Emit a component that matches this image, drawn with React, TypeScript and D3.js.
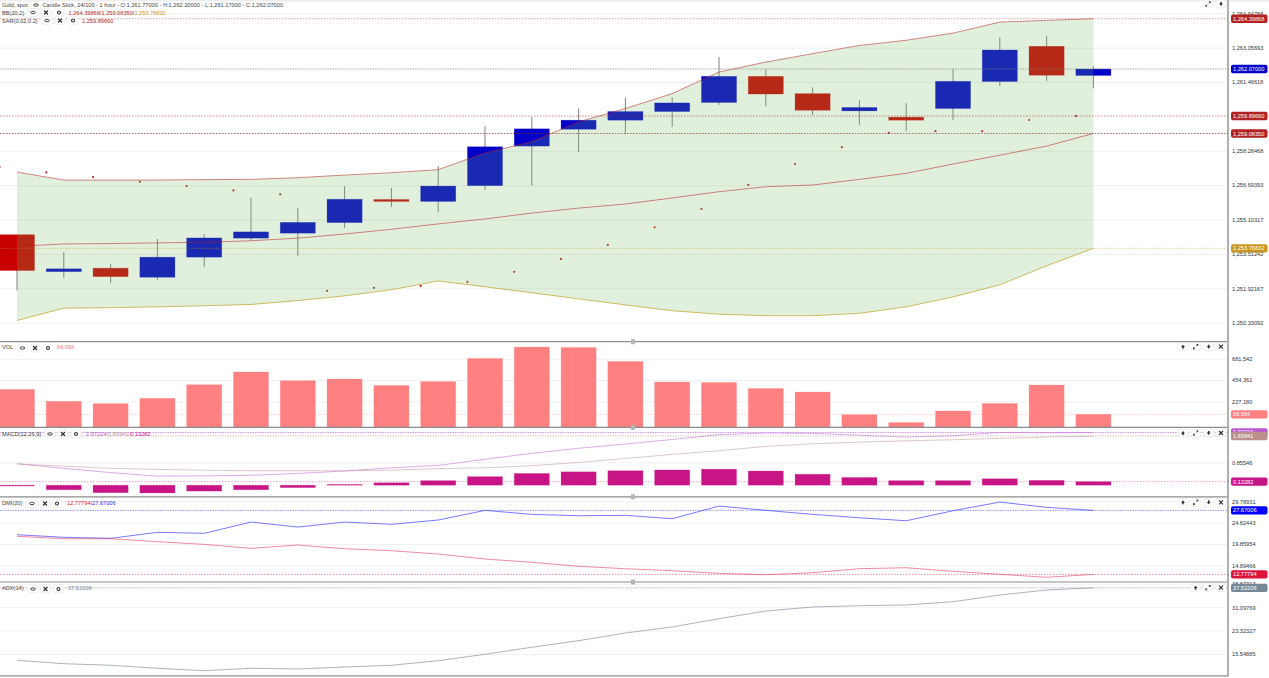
import React, { useRef, useEffect } from 'react';
import * as d3 from 'd3';

// candles, 1 hour bars
const opens = [1254.40, 1252.69, 1252.85, 1252.43, 1253.36, 1254.24, 1254.47, 1254.96, 1256.03, 1255.94, 1256.67, 1258.50, 1259.28, 1259.70, 1260.10, 1260.52, 1261.73, 1260.93, 1260.13, 1259.84, 1260.24, 1261.49, 1263.12, 1261.77];
const highs = [1254.40, 1253.60, 1253.05, 1254.20, 1254.43, 1256.11, 1255.65, 1256.65, 1256.56, 1257.58, 1259.42, 1259.84, 1260.24, 1260.75, 1260.76, 1262.62, 1262.06, 1261.22, 1260.62, 1260.49, 1262.06, 1263.53, 1263.61, 1262.20];
const lows = [1251.82, 1252.40, 1252.17, 1252.31, 1252.91, 1254.12, 1253.42, 1254.71, 1255.68, 1255.44, 1256.48, 1256.67, 1258.21, 1259.10, 1259.39, 1260.41, 1260.35, 1259.94, 1259.47, 1259.19, 1259.71, 1261.28, 1261.52, 1261.17];
const closes = [1252.74, 1252.82, 1252.46, 1253.36, 1254.25, 1254.53, 1254.97, 1256.04, 1255.94, 1256.65, 1258.47, 1259.30, 1259.70, 1260.10, 1260.50, 1261.73, 1260.91, 1260.16, 1260.29, 1259.70, 1261.50, 1262.95, 1261.78, 1262.07];

const bbUpper = [1257.30, 1256.93, 1256.93, 1256.93, 1256.95, 1256.96, 1257.04, 1257.16, 1257.27, 1257.41, 1258.18, 1258.70, 1259.62, 1260.24, 1260.93, 1261.93, 1262.39, 1262.78, 1263.16, 1263.40, 1263.73, 1264.24, 1264.32, 1264.39868];
const bbMiddle = [1253.86, 1253.97, 1253.99, 1254.02, 1254.05, 1254.12, 1254.24, 1254.43, 1254.65, 1254.90, 1255.13, 1255.40, 1255.63, 1255.82, 1256.10, 1256.39, 1256.62, 1256.70, 1256.96, 1257.24, 1257.67, 1258.08, 1258.50, 1259.0835];
const bbLower = [1250.43, 1251.00, 1251.02, 1251.06, 1251.11, 1251.17, 1251.35, 1251.57, 1251.85, 1252.26, 1251.99, 1251.71, 1251.43, 1251.15, 1250.88, 1250.72, 1250.65, 1250.65, 1250.76, 1251.06, 1251.52, 1252.08, 1252.96, 1253.76832];
const sar = [1257.53, 1257.28, 1257.07, 1256.85, 1256.65, 1256.45, 1256.27, 1251.80, 1251.94, 1252.03, 1252.22, 1252.68, 1253.28, 1253.93, 1254.74, 1255.59, 1256.71, 1257.67, 1258.45, 1259.11, 1259.19, 1259.19, 1259.71, 1259.8966];

const volume = [356000, 228000, 203000, 260000, 405000, 541000, 448000, 466000, 397000, 439000, 685000, 807000, 802000, 653000, 434000, 429000, 365000, 327000, 85000, 2000, 125000, 205000, 402000, 88954];

const macdLine = [0.80, 0.63, 0.47, 0.34, 0.35, 0.37, 0.44, 0.53, 0.65, 0.74, 0.97, 1.19, 1.38, 1.54, 1.71, 1.89, 1.95, 1.94, 1.87, 1.80, 1.85, 1.97, 1.96, 1.97224];
const macdSignal = [0.80, 0.71, 0.63, 0.59, 0.56, 0.54, 0.54, 0.54, 0.56, 0.62, 0.65, 0.73, 0.85, 1.00, 1.15, 1.29, 1.45, 1.55, 1.61, 1.66, 1.70, 1.75, 1.80, 1.83941];
const macdHist = [-0.03, -0.17, -0.28, -0.29, -0.22, -0.17, -0.09, 0.03, 0.09, 0.17, 0.32, 0.44, 0.50, 0.54, 0.57, 0.60, 0.53, 0.41, 0.29, 0.17, 0.17, 0.24, 0.18, 0.13282];

const diPlus = [22.01, 21.41, 21.17, 22.57, 22.33, 24.96, 23.80, 24.96, 24.43, 25.43, 27.68, 26.75, 26.43, 26.52, 25.73, 28.68, 27.68, 26.75, 25.96, 25.26, 27.59, 29.61, 28.38, 27.67006];
const diMinus = [21.64, 21.08, 21.08, 20.38, 19.77, 18.84, 19.61, 18.75, 18.29, 17.52, 16.36, 15.59, 14.66, 14.10, 13.63, 13.03, 12.70, 13.17, 14.10, 14.33, 13.49, 12.80, 12.10, 12.77794];
const adx = [13.46, 12.33, 11.80, 10.80, 10.00, 10.80, 10.57, 11.23, 11.80, 13.32, 15.45, 17.78, 19.97, 22.53, 24.52, 27.28, 29.83, 31.16, 31.60, 31.83, 32.92, 35.15, 36.81, 37.52206];

const priceTicks = [1264.64788, 1263.05693, 1261.46618, 1259.87543, 1258.28468, 1256.69393, 1255.10317, 1253.51242, 1251.92167, 1250.33092];
const volTicks = [681542, 454361, 227180];
const macdTicks = [0.85546];
const dmiTicks = [29.78931, 24.82443, 19.85954, 14.89466];
const adxTicks = [38.87313, 31.09769, 23.32327, 15.54885];

const FONT = '"Liberation Sans", Arial, sans-serif';
const W = 1269;
const H = 678;
const PLOT_R = 1228;
const FS = 5.65;

const UP = '#0000c8';
const DOWN = '#c80000';
const BRICK = '#b22222';
const GOLD = '#c8961e';
const MACD_C = '#ba55d3';
const SIGNAL_C = '#bc8f8f';
const HIST_C = '#c71585';
const PLUS_C = '#2a2aff';
const MINUS_C = '#dc143c';
const ADX_C = '#778899';
const VOL_C = '#ff8080';

type Sel = d3.Selection<any, any, any, any>;

const drawButton = (g: Sel, cx: number, cy: number, kind: string) => {
  const b = g.append('g').attr('transform', `translate(${cx},${cy})`);
  b.append('rect').attr('x', -5).attr('y', -3.8).attr('width', 10).attr('height', 7.6).attr('rx', 2)
    .attr('fill', '#fff').attr('stroke', '#e4e4e4').attr('stroke-width', 0.6);
  const ink = '#333';
  if (kind === 'eye') {
    b.append('ellipse').attr('rx', 2.4).attr('ry', 1.2).attr('fill', 'none').attr('stroke', ink).attr('stroke-width', 0.9);
  } else if (kind === 'x') {
    b.append('path').attr('d', 'M-2,-2L2,2M2,-2L-2,2').attr('stroke', ink).attr('stroke-width', 1.2);
  } else if (kind === 'gear') {
    b.append('circle').attr('r', 1.5).attr('fill', 'none').attr('stroke', ink).attr('stroke-width', 1.1);
  } else if (kind === 'up') {
    b.append('path').attr('d', 'M0,-2L2,0.4H0.8V2H-0.8V0.4H-2Z').attr('fill', ink);
  } else if (kind === 'down') {
    b.append('path').attr('d', 'M0,2L2,-0.4H0.8V-2H-0.8V-0.4H-2Z').attr('fill', ink);
  } else {
    b.append('path').attr('d', 'M-2.2,2.2L-0.8,0.8M0.8,-0.8L2.2,-2.2').attr('stroke', ink).attr('stroke-width', 1);
    b.append('path').attr('d', 'M-2.6,0.4V2.6H-0.4ZM2.6,-0.4V-2.6H0.4Z').attr('fill', ink);
  }
};

const App: React.FC = () => {
  const svgRef = useRef<SVGSVGElement>(null);

  useEffect(() => {
    if (!svgRef.current) return;
    const svg = d3.select(svgRef.current);
    svg.selectAll('*').remove();

    const idx = d3.range(opens.length);
    const x = d3.scaleBand<number>().domain(idx).range([-6.4, 1116.8]).paddingInner(0.25).paddingOuter(0.125);
    const bw = x.bandwidth();
    const cx = (i: number) => (x(i) as number) + bw / 2;

    const yPrice = d3.scaleLinear().domain([1264.64788, 1250.33092]).range([13.3, 322.6]);
    const yVol = d3.scaleLinear().domain([681542, 0]).range([358.8, 422.7]);
    const yMacd = d3.scaleLinear().domain([1.83941, 0]).range([436, 485.2]);
    const yDmi = d3.scaleLinear().domain([29.78931, 14.89466]).range([501.3, 565.3]);
    const yAdx = d3.scaleLinear().domain([31.09769, 15.54885]).range([607.2, 654]);

    svg.append('rect').attr('width', W).attr('height', H).attr('fill', '#fff');
    svg.append('rect').attr('width', W).attr('height', 1.5).attr('fill', '#eeeeee');

    // grid lines + right tick labels
    const addAxis = (scale: d3.ScaleLinear<number, number>, ticks: number[], fmt: string) => {
      const a = svg.append('g').attr('transform', `translate(${PLOT_R},0)`)
        .call(d3.axisRight(scale).tickValues(ticks).tickSize(-PLOT_R).tickPadding(4).tickFormat(d3.format(fmt) as any));
      a.select('path.domain').remove();
      a.selectAll('line').attr('stroke', '#f0f0f0');
      a.selectAll('text').attr('fill', '#333').style('font-size', `${FS}px`).style('font-family', FONT);
    };
    addAxis(yPrice, priceTicks, ',.5f');
    addAxis(yVol, volTicks, ',d');
    addAxis(yMacd, macdTicks, '.5f');
    addAxis(yDmi, dmiTicks, '.5f');
    addAxis(yAdx, adxTicks, '.5f');

    // candles
    const candles = svg.append('g');
    idx.forEach((i) => {
      const up = closes[i] >= opens[i];
      const c = up ? UP : DOWN;
      candles.append('line').attr('x1', cx(i)).attr('x2', cx(i))
        .attr('y1', yPrice(highs[i])).attr('y2', yPrice(lows[i]))
        .attr('stroke', '#808080').attr('stroke-width', 1);
      candles.append('rect').attr('x', x(i) as number).attr('width', bw)
        .attr('y', yPrice(Math.max(opens[i], closes[i])))
        .attr('height', Math.abs(yPrice(opens[i]) - yPrice(closes[i])))
        .attr('fill', c).attr('stroke', c).attr('stroke-opacity', 0.35).attr('stroke-width', 0.7);
    });

    // SAR sits on the left edge of each band
    svg.append('g').selectAll('circle').data(sar).join('circle')
      .attr('cx', (_, i) => x(i) as number)
      .attr('cy', (d) => yPrice(d))
      .attr('r', 1.1)
      .attr('fill', BRICK);

    // bollinger band
    const band = d3.area<number>()
      .x((i) => cx(i))
      .y0((i) => yPrice(bbLower[i]))
      .y1((i) => yPrice(bbUpper[i]));
    svg.append('path').datum(idx).attr('d', band).attr('fill', 'rgba(120,185,100,0.22)');

    const addLine = (vals: number[], scale: d3.ScaleLinear<number, number>, color: string, op = 0.75) => {
      const line = d3.line<number>().x((_, i) => cx(i)).y((d) => scale(d));
      svg.append('path').datum(vals).attr('d', line).attr('fill', 'none')
        .attr('stroke', color).attr('stroke-width', 0.9).attr('stroke-opacity', op);
    };
    addLine(bbUpper, yPrice, BRICK, 0.6);
    addLine(bbMiddle, yPrice, BRICK, 0.6);
    addLine(bbLower, yPrice, '#b8960b', 0.7);

    // volume
    svg.append('g').selectAll('rect').data(volume).join('rect')
      .attr('x', (_, i) => x(i) as number)
      .attr('width', bw)
      .attr('y', (d) => yVol(d))
      .attr('height', (d) => 427 - yVol(d))
      .attr('fill', VOL_C)
      .attr('stroke', VOL_C).attr('stroke-opacity', 0.35).attr('stroke-width', 0.7);

    // macd
    svg.append('g').selectAll('rect').data(macdHist).join('rect')
      .attr('x', (_, i) => x(i) as number)
      .attr('width', bw)
      .attr('y', (d) => Math.min(yMacd(d), yMacd(0)))
      .attr('height', (d) => Math.abs(yMacd(d) - yMacd(0)))
      .attr('fill', HIST_C)
      .attr('stroke', HIST_C).attr('stroke-opacity', 0.3).attr('stroke-width', 0.7);
    addLine(macdLine, yMacd, MACD_C, 0.55);
    addLine(macdSignal, yMacd, SIGNAL_C, 0.55);

    addLine(diPlus, yDmi, PLUS_C, 0.7);
    addLine(diMinus, yDmi, MINUS_C, 0.55);
    addLine(adx, yAdx, ADX_C, 0.7);

    // pane borders
    const seps = [341.7, 427.4, 496.8, 582, 675.8];
    seps.forEach((s) => {
      svg.append('line').attr('x1', 0).attr('x2', PLOT_R).attr('y1', s).attr('y2', s)
        .attr('stroke', '#8c8c8c').attr('stroke-width', 1.2);
    });
    seps.slice(0, 4).forEach((s) => {
      svg.append('rect').attr('x', 631).attr('y', s - 2.5).attr('width', 4).attr('height', 5).attr('fill', '#b5b5b5');
    });
    svg.append('line').attr('x1', PLOT_R).attr('x2', PLOT_R).attr('y1', 0).attr('y2', 676.5)
      .attr('stroke', '#b0b0b0').attr('stroke-width', 2);

    // last value lines + tags
    const lastValues: [number, string, string, string, string, number][] = [
      [yPrice(bbUpper[23]), '1,264.39868', BRICK, BRICK, '1.5,1.5', 0.5],
      [yPrice(closes[23]), '1,262.07000', UP, '#808080', '1.5,1', 0.8],
      [yPrice(sar[23]), '1,259.89660', BRICK, BRICK, '1.5,1.5', 0.6],
      [yPrice(bbMiddle[23]), '1,259.08350', BRICK, '#8a1a1a', '1.5,1.5', 0.8],
      [yPrice(bbLower[23]), '1,253.76832', GOLD, GOLD, '1.5,1.5', 0.6],
      [yVol(volume[23]), '88,954', VOL_C, VOL_C, '1.5,1.5', 0.5],
      [yMacd(macdLine[23]), '1.97224', MACD_C, MACD_C, '1.5,1', 0.8],
      [yMacd(macdSignal[23]), '1.83941', SIGNAL_C, SIGNAL_C, '1.5,1', 0.6],
      [yMacd(macdHist[23]), '0.13282', HIST_C, HIST_C, '1.5,1.5', 0.5],
      [yDmi(diPlus[23]), '27.67006', '#0000ff', PLUS_C, '1.5,1', 0.6],
      [yDmi(diMinus[23]), '12.77794', MINUS_C, MINUS_C, '1.5,1.5', 0.6],
      [yAdx(adx[23]), '37.52206', ADX_C, ADX_C, '1.5,1', 0.7],
    ];
    lastValues.forEach(([y, , , lc, dash, op]) => {
      svg.append('line').attr('x1', 0).attr('x2', PLOT_R).attr('y1', y).attr('y2', y)
        .attr('stroke', lc).attr('stroke-width', 0.8).attr('stroke-opacity', op).attr('stroke-dasharray', dash);
    });
    lastValues.forEach(([y, label, c]) => {
      svg.append('rect').attr('x', 1231).attr('y', y - 4.2).attr('width', 36.5).attr('height', 8.4).attr('rx', 2).attr('fill', c);
      svg.append('text').attr('x', 1233).attr('y', y + 2).text(label).attr('fill', '#fff')
        .style('font-size', `${FS}px`).style('font-family', FONT);
    });

    // header texts
    const addText = (px: number, py: number, parts: [string, string][]) => {
      const t = svg.append('text').attr('x', px).attr('y', py).style('font-size', `${FS}px`).style('font-family', FONT);
      parts.forEach(([s, c]) => t.append('tspan').attr('fill', c).text(s));
    };
    const INK = '#444';
    addText(2, 7, [['Gold, spot', INK]]);
    addText(42.5, 7, [['Candle Stick, 24/100 - 1 hour - O:1,261.77000 - H:1,262.20000 - L:1,261.17000 - C:1,262.07000', INK]]);
    addText(2, 14.5, [['BB(20,2)', INK]]);
    addText(68.5, 14.5, [['1,264.39868/1,259.08350/', BRICK], ['1,253.76832', GOLD]]);
    addText(2, 22.5, [['SAR(0.02,0.2)', INK]]);
    addText(82, 22.5, [['1,259.89660', BRICK]]);
    addText(2, 349, [['VOL', INK]]);
    addText(57, 349, [['88,954', VOL_C]]);
    addText(2, 435.5, [['MACD(12,26,9)', INK]]);
    addText(86, 435.5, [['1.97224/', MACD_C], ['1.83941/', SIGNAL_C], ['0.13282', HIST_C]]);
    addText(2, 505, [['DMI(20)', INK]]);
    addText(67, 505, [['12.77794', MINUS_C], ['/', INK], ['27.67006', PLUS_C]]);
    addText(2, 590, [['ADX(14)', INK]]);
    addText(68, 590, [['37.52206', ADX_C]]);

    const buttons: [number, number, string][] = [
      [36, 5, 'eye'],
      [33, 12.5, 'eye'], [46, 12.5, 'x'], [59, 12.5, 'gear'],
      [47, 20.5, 'eye'], [60, 20.5, 'x'], [73, 20.5, 'gear'],
      [22.5, 348, 'eye'], [35, 348, 'x'], [48, 348, 'gear'],
      [50, 434, 'eye'], [63, 434, 'x'], [76, 434, 'gear'],
      [32, 503.5, 'eye'], [45, 503.5, 'x'], [57, 503.5, 'gear'],
      [33, 589, 'eye'], [45.5, 589, 'x'], [58.5, 589, 'gear'],
      [1208, 4, 'expand'], [1221, 4, 'down'],
      [1183, 346.7, 'up'], [1195.6, 346.7, 'expand'], [1208.7, 346.7, 'down'], [1221, 346.7, 'x'],
      [1183, 433, 'up'], [1195.6, 433, 'expand'], [1208.7, 433, 'down'], [1221, 433, 'x'],
      [1183, 502.3, 'up'], [1195.6, 502.3, 'expand'], [1208.7, 502.3, 'down'], [1221, 502.3, 'x'],
      [1195.6, 587.7, 'up'], [1208, 587.7, 'expand'], [1221, 587.7, 'x'],
    ];
    buttons.forEach(([bx, by, kind]) => drawButton(svg, bx, by, kind));
  }, []);

  return <svg ref={svgRef} width={W} height={H} style={{ position: 'absolute', left: 0, top: 0 }}></svg>;
};

export default App;
